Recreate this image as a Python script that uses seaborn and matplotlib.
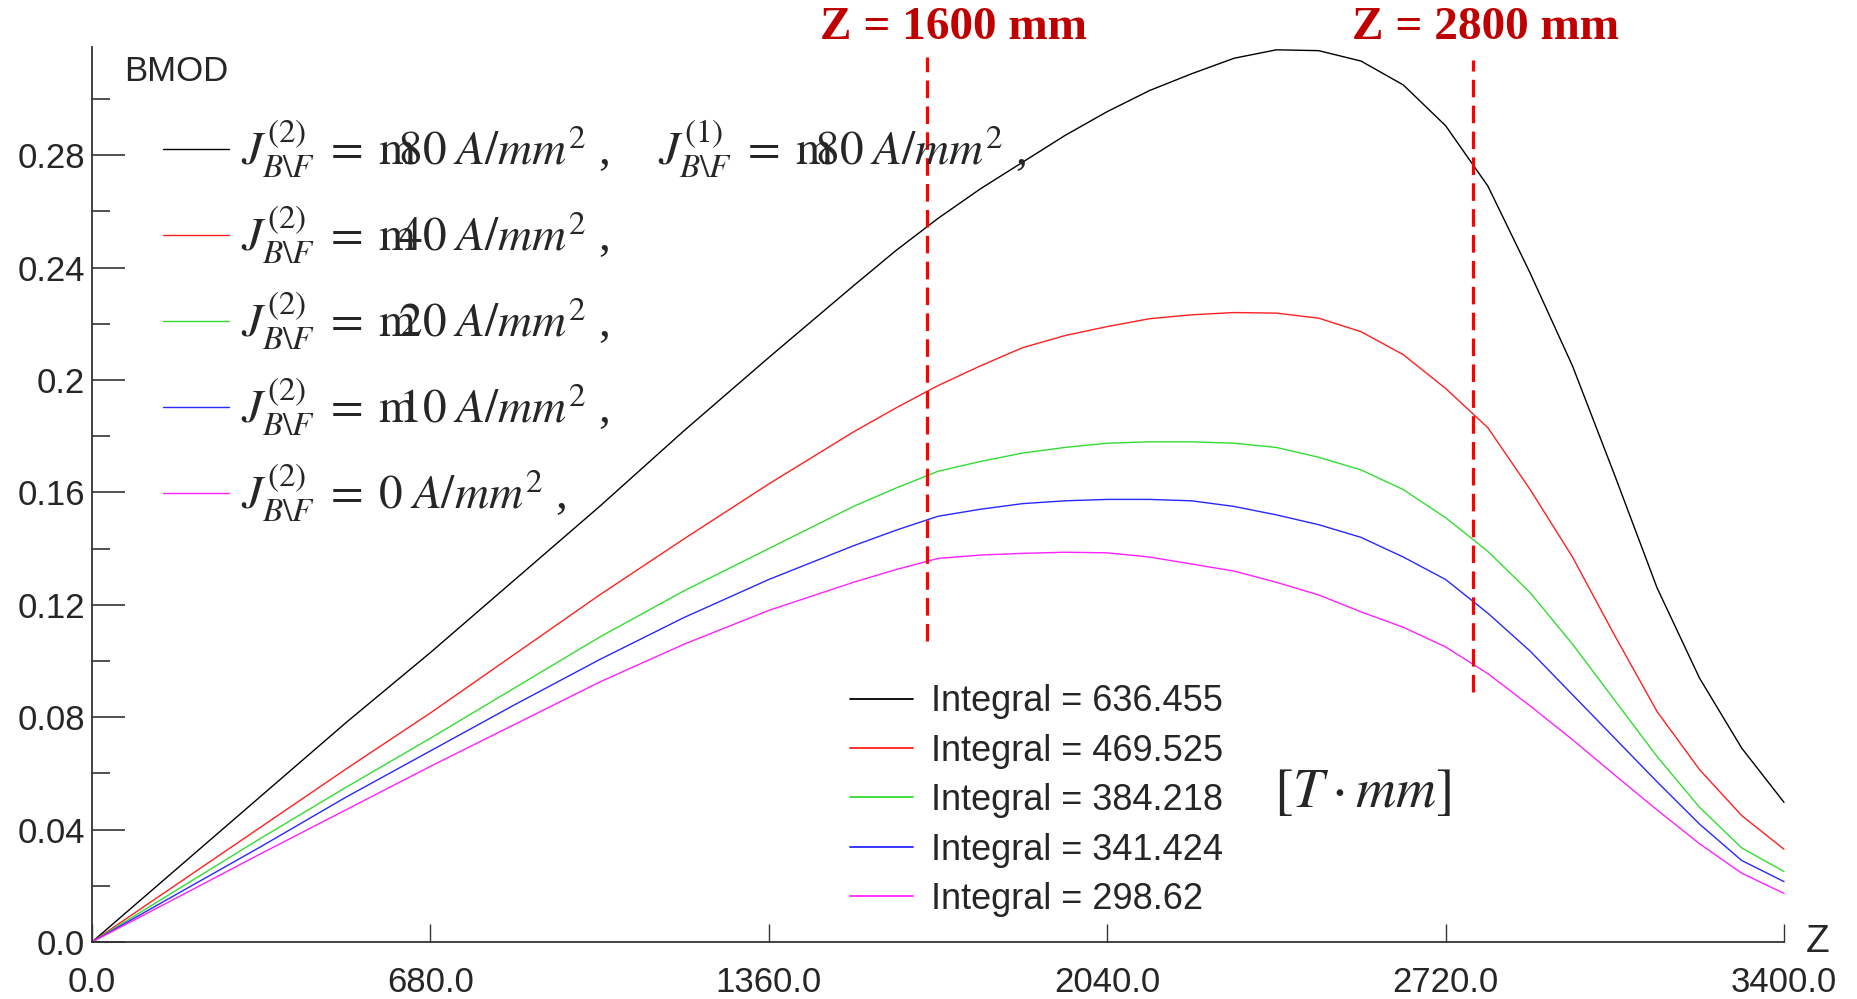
"""
BMOD along Z for different J_B\\F currents, with integrals
"""
import numpy as np
import pandas as pd
import matplotlib
matplotlib.use('Agg')
import matplotlib.pyplot as plt
from matplotlib.lines import Line2D
from matplotlib.ticker import FixedLocator
import seaborn as sns

sns.set_style('ticks')
plt.rcParams['font.family'] = ['Liberation Sans', 'DejaVu Sans']
plt.rcParams['mathtext.fontset'] = 'stix'

# ---------------- data ----------------
z_mm = [0, 170, 340, 510, 680, 850, 1020, 1190, 1360, 1530,
        1615, 1700, 1785, 1870, 1955, 2040, 2125, 2210, 2295, 2380, 2465,
        2550, 2635, 2720, 2805, 2890, 2975, 3060, 3145, 3230, 3315, 3400]
bmod_m80 = [0, 0.026, 0.052, 0.078, 0.103, 0.129, 0.155, 0.182, 0.208, 0.2335,
            0.246, 0.2575, 0.268, 0.2775, 0.287, 0.2955, 0.303, 0.309, 0.3145, 0.3175, 0.3172,
            0.3135, 0.305, 0.2905, 0.269, 0.238, 0.205, 0.166, 0.126, 0.094, 0.069, 0.0497]
bmod_m40 = [0, 0.0205, 0.041, 0.0615, 0.0815, 0.1025, 0.1235, 0.1435, 0.163, 0.1815,
            0.190, 0.198, 0.205, 0.2115, 0.2158, 0.219, 0.2218, 0.2232, 0.2240, 0.2238, 0.222,
            0.2172, 0.209, 0.197, 0.183, 0.161, 0.137, 0.109, 0.082, 0.0614, 0.045, 0.033]
bmod_m20 = [0, 0.0185, 0.037, 0.055, 0.0725, 0.0905, 0.1085, 0.125, 0.140, 0.155,
            0.1615, 0.1675, 0.171, 0.174, 0.176, 0.1775, 0.178, 0.178, 0.1775, 0.176, 0.1725,
            0.168, 0.161, 0.151, 0.139, 0.1243, 0.106, 0.086, 0.066, 0.048, 0.0335, 0.0251]
bmod_m10 = [0, 0.017, 0.034, 0.0515, 0.068, 0.0845, 0.1005, 0.1155, 0.129, 0.141,
            0.1465, 0.1515, 0.154, 0.156, 0.157, 0.1575, 0.1575, 0.157, 0.155, 0.152, 0.1485,
            0.144, 0.137, 0.129, 0.117, 0.1035, 0.088, 0.0725, 0.057, 0.042, 0.029, 0.0215]
bmod_0 = [0, 0.0157, 0.0315, 0.047, 0.0625, 0.0775, 0.0925, 0.106, 0.118, 0.128,
          0.1325, 0.1365, 0.1377, 0.1383, 0.1387, 0.1385, 0.137, 0.1345, 0.132, 0.128, 0.1235,
          0.1175, 0.112, 0.105, 0.0955, 0.084, 0.072, 0.0594, 0.047, 0.035, 0.0245, 0.0173]

cases = ['m80', 'm40', 'm20', 'm10', '0']
case_colors = ['#000000', '#ff2020', '#33dd33', '#2828ff', '#ff22ff']
integrals = ['636.455', '469.525', '384.218', '341.424', '298.62']
current_labels = [
    r'$J_{B\backslash F}^{(2)}\;=\;\mathrm{m}\!\!\!80\;A/mm^{2}$ ,    '
    r'$J_{B\backslash F}^{(1)}\;=\;\mathrm{m}\!\!\!80\;A/mm^{2}$ ,',
    r'$J_{B\backslash F}^{(2)}\;=\;\mathrm{m}\!\!\!40\;A/mm^{2}$ ,',
    r'$J_{B\backslash F}^{(2)}\;=\;\mathrm{m}\!\!\!20\;A/mm^{2}$ ,',
    r'$J_{B\backslash F}^{(2)}\;=\;\mathrm{m}\!\!\!10\;A/mm^{2}$ ,',
    r'$J_{B\backslash F}^{(2)}\;=\;0\;A/mm^{2}$ ,',
]

x_ticks = [0, 680, 1360, 2040, 2720, 3400]
x_tick_labels = ['0.0', '680.0', '1360.0', '2040.0', '2720.0', '3400.0']
y_ticks = [0, 0.04, 0.08, 0.12, 0.16, 0.2, 0.24, 0.28]
y_tick_labels = ['0.0', '0.04', '0.08', '0.12', '0.16', '0.2', '0.24', '0.28']
y_minor = [0.02, 0.06, 0.10, 0.14, 0.18, 0.22, 0.26, 0.30]

# red marker lines (hand drawn in the original)
marker_z = [1678, 2776]
marker_low = [0.107, 0.089]
marker_high = [0.315, 0.314]
marker_titles = ['Z = 1600 mm', 'Z = 2800 mm']

df = pd.DataFrame({
    'Z': z_mm * len(cases),
    'BMOD': bmod_m80 + bmod_m40 + bmod_m20 + bmod_m10 + bmod_0,
    'case': np.repeat(cases, len(z_mm)),
})

# ---------------- figure ----------------
fig = plt.figure(figsize=(18.57, 9.99), dpi=100)
ax = fig.add_axes([92 / 1857, 57 / 999, 1692 / 1857, 895 / 999])

sns.lineplot(data=df, x='Z', y='BMOD', hue='case', hue_order=cases,
             palette=dict(zip(cases, case_colors)), linewidth=1.0,
             errorbar=None, legend=False, ax=ax)
for ln in ax.lines:
    ln.set_clip_on(False)

ax.set_xlim(0, 3400)
ax.set_ylim(0, 0.3185)
ax.set_xlabel('')
ax.set_ylabel('')
for s in ['top', 'right']:
    ax.spines[s].set_visible(False)
for s in ['left', 'bottom']:
    ax.spines[s].set_linewidth(1.3)
    ax.spines[s].set_color('#333333')

ax.set_xticks(x_ticks, x_tick_labels)
ax.set_yticks(y_ticks, y_tick_labels)
ax.yaxis.set_minor_locator(FixedLocator(y_minor))
ax.tick_params(axis='y', which='major', direction='in', length=24, width=1.2,
               color='#333333', pad=5, labelsize=25)
ax.tick_params(axis='y', which='minor', direction='in', length=13, width=1.2,
               color='#333333')
ax.tick_params(axis='x', which='major', direction='in', length=13, width=1.0,
               color='#333333', pad=17, labelsize=25)

ax.text(0.019, 0.973, 'BMOD', transform=ax.transAxes, fontsize=25,
        ha='left', va='center')
fig.text(1806 / 1857, 1 - 942 / 999, 'Z', fontsize=28, ha='left', va='center')

# red dashed markers and titles
for zm, lo, hi in zip(marker_z, marker_low, marker_high):
    ax.plot([zm, zm], [lo, hi], color='#ff0000', lw=2.3, dashes=(5.5, 2.6),
            clip_on=False)
for xf, title in zip([953 / 1857, 1485 / 1857], marker_titles):
    fig.text(xf, 1 - 28 / 999, title, color='#c00000', fontsize=34,
             fontweight='bold', family='Liberation Serif', ha='center', va='center')

# upper legend: current densities
h1 = [Line2D([], [], color=c, lw=1.0) for c in case_colors]
leg1 = ax.legend(h1, current_labels, loc='upper left', bbox_to_anchor=(0.042, 0.921),
                 frameon=False, prop={'family': 'Liberation Serif', 'size': 34},
                 handlelength=1.4, handletextpad=0.25, labelspacing=0.5,
                 borderpad=0, borderaxespad=0)
ax.add_artist(leg1)

# lower legend: integrals
h2 = [Line2D([], [], color=c, lw=1.3) for c in case_colors]
leg2 = ax.legend(h2, ['Integral = ' + v for v in integrals], loc='upper left',
                 bbox_to_anchor=(0.448, 0.288), frameon=False, fontsize=26,
                 handlelength=1.75, handletextpad=0.5, labelspacing=0.4,
                 borderpad=0, borderaxespad=0)

fig.text(1363 / 1857, 1 - 793 / 999, r'$\left[T\cdot mm\right]$', fontsize=40,
         ha='center', va='center')

plt.savefig('out.png', dpi=100, facecolor='white')
plt.close()
print("saved out.png")
